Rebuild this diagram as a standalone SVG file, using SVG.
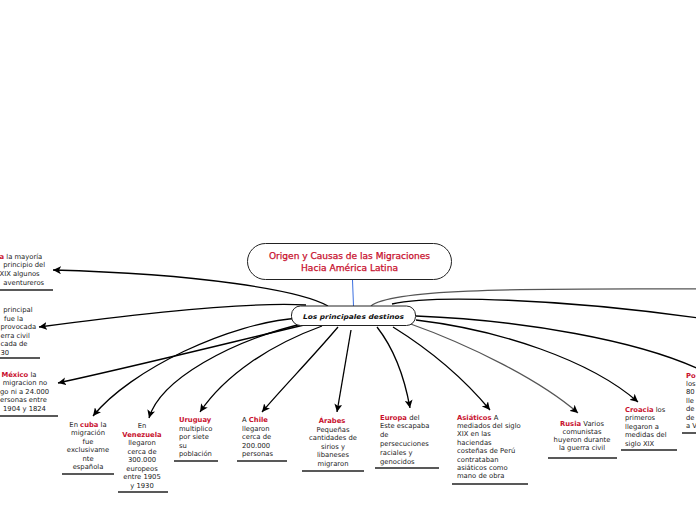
<svg xmlns="http://www.w3.org/2000/svg" width="696" height="520" viewBox="0 0 696 520">
<defs>
<marker id="arr" markerUnits="userSpaceOnUse" markerWidth="9" markerHeight="8" refX="8" refY="4" orient="auto">
<path d="M0,0 L8,4 L0,8 L2,4 z" fill="#000"/>
</marker>
<style>
.t{font-family:"DejaVu Sans",Verdana,sans-serif;font-size:6.8px;fill:#222}
.r{fill:#c8102e;font-weight:bold}
.c{fill:none;stroke:#000;stroke-width:1.3}
.g{fill:none;stroke:#555;stroke-width:1.2}
.u{stroke:#222;stroke-width:1.5}
.m{text-anchor:middle}
</style>
</defs>
<rect width="696" height="520" fill="#fff"/>
<g id="connectors">
<line x1="352.5" y1="280" x2="353.5" y2="306" stroke="#3b6fe0" stroke-width="1"/>
<path class="c" d="M328,306 C300,290 200,274 53,270" marker-end="url(#arr)"/>
<path class="c" d="M306,305 C250,302 150,312 39,327" marker-end="url(#arr)"/>
<path class="c" d="M304,325 C220,345 140,365 58,383" marker-end="url(#arr)"/>
<path class="c" d="M300,318 C230,322 130,370 93,416" marker-end="url(#arr)"/>
<path class="c" d="M310,322 C230,340 160,380 149,418" marker-end="url(#arr)"/>
<path class="c" d="M322,326 C270,345 225,375 200,412" marker-end="url(#arr)"/>
<path class="c" d="M338,327 C310,360 285,385 262,412" marker-end="url(#arr)"/>
<path class="c" d="M351,330 L337,412" marker-end="url(#arr)"/>
<path class="c" d="M377,327 C395,350 405,380 410,408" marker-end="url(#arr)"/>
<path class="c" d="M393,327 C430,350 465,380 490,410" marker-end="url(#arr)"/>
<path class="g" d="M408,323 C470,345 540,380 578,413" marker-end="url(#arr)"/>
<path class="c" d="M416,320 C500,330 590,360 638,402" marker-end="url(#arr)"/>
<path class="c" d="M416,316 C520,320 640,340 705,372" marker-end="url(#arr)"/>
<path class="c" d="M392,304 C430,295 560,298 705,319"/>
<path class="g" d="M371,306 C390,290 500,288 705,289"/>
</g>
<g id="title">
<rect x="247.5" y="243.5" width="204" height="36" rx="18" fill="#fff" stroke="#222" stroke-width="1"/>
<text x="349.5" y="259" text-anchor="middle" textLength="161" lengthAdjust="spacingAndGlyphs" style="font-family:'DejaVu Sans Condensed','DejaVu Sans',sans-serif;font-size:9.5px;fill:#c8102e;stroke:#c8102e;stroke-width:0.25">Origen y Causas de las Migraciones</text>
<text x="349.5" y="271" text-anchor="middle" textLength="97" lengthAdjust="spacingAndGlyphs" style="font-family:'DejaVu Sans Condensed','DejaVu Sans',sans-serif;font-size:9.5px;fill:#c8102e;stroke:#c8102e;stroke-width:0.25">Hacia América Latina</text>
</g>
<g id="destinos">
<rect x="291.5" y="306" width="124" height="19.5" rx="9" fill="#fff" stroke="#222" stroke-width="1"/>
<text x="353.5" y="318.5" text-anchor="middle" textLength="101" lengthAdjust="spacingAndGlyphs" style="font-family:'DejaVu Sans',sans-serif;font-size:6.6px;font-weight:bold;font-style:italic;fill:#111">Los principales destinos</text>
</g>
<g id="argentina">
<text class="t" x="-0.5" y="258.5"><tspan class="r">a</tspan> la mayoría</text>
<text class="t" x="3.3" y="267.3">principio del</text>
<text class="t" x="-0.5" y="276">XIX algunos</text>
<text class="t" x="3.3" y="284.8">aventureros</text>
<line class="u" x1="0" y1="290" x2="53" y2="290"/>
</g>
<g id="espana">
<text class="t" x="3.3" y="312">principal</text>
<text class="t" x="4" y="320.5">fue la</text>
<text class="t" x="0.5" y="329">provocada</text>
<text class="t" x="0.5" y="337.5">erra civil</text>
<text class="t" x="0.5" y="346">cada de</text>
<text class="t" x="0.5" y="354.5">30</text>
<line class="u" x1="0" y1="358" x2="40" y2="358"/>
</g>
<g id="mexico">
<text class="t" x="1.5" y="376.5"><tspan class="r">México</tspan>  la</text>
<text class="t" x="2.7" y="385">migracion no</text>
<text class="t" x="0" y="393.5">go ni a 24.000</text>
<text class="t" x="0" y="402">ersonas entre</text>
<text class="t" x="3" y="410.5">1904 y 1824</text>
<line class="u" x1="0" y1="416" x2="58" y2="416"/>
</g>
<g id="cuba">
<text class="t m" x="88" y="427">En <tspan class="r">cuba</tspan> la</text>
<text class="t m" x="88" y="435.4">migración</text>
<text class="t m" x="88" y="443.8">fue</text>
<text class="t m" x="88" y="452.2">exclusivame</text>
<text class="t m" x="88" y="460.6">nte</text>
<text class="t m" x="88" y="469">española</text>
<line class="u" x1="62" y1="474" x2="114" y2="474"/>
</g>
<g id="venezuela">
<text class="t m" x="142" y="428">En</text>
<text class="t m r" x="142" y="436.5">Venezuela</text>
<text class="t m" x="142" y="445">llegaron</text>
<text class="t m" x="142" y="453.5">cerca de</text>
<text class="t m" x="142" y="462">300.000</text>
<text class="t m" x="142" y="470.5">europeos</text>
<text class="t m" x="142" y="479">entre 1905</text>
<text class="t m" x="142" y="487.5">y 1930</text>
<line class="u" x1="118" y1="492" x2="168" y2="492"/>
</g>
<g id="uruguay">
<text class="t r" x="179" y="422">Uruguay</text>
<text class="t" x="179" y="430.5">multiplico</text>
<text class="t" x="179" y="439">por siete</text>
<text class="t" x="179" y="447.5">su</text>
<text class="t" x="179" y="456">población</text>
<line class="u" x1="174" y1="461" x2="218" y2="461"/>
</g>
<g id="chile">
<text class="t" x="242" y="422">A <tspan class="r">Chile</tspan></text>
<text class="t" x="242" y="430.5">llegaron</text>
<text class="t" x="242" y="439">cerca de</text>
<text class="t" x="242" y="447.5">200.000</text>
<text class="t" x="242" y="456">personas</text>
<line class="u" x1="237" y1="461" x2="287" y2="461"/>
</g>
<g id="arabes">
<text class="t m r" x="332" y="423">Árabes</text>
<text class="t m" x="333" y="431.6">Pequeñas</text>
<text class="t m" x="333" y="440.2">cantidades de</text>
<text class="t m" x="333" y="448.8">sirios y</text>
<text class="t m" x="333" y="457.4">libaneses</text>
<text class="t m" x="333" y="466">migraron</text>
<line class="u" x1="302" y1="471" x2="364" y2="471"/>
</g>
<g id="europa">
<text class="t" x="380" y="419.5"><tspan class="r">Europa</tspan> del</text>
<text class="t" x="380" y="428.4">Este escapaba</text>
<text class="t" x="380" y="437.3">de</text>
<text class="t" x="380" y="446.2">persecuciones</text>
<text class="t" x="380" y="455.1">raciales y</text>
<text class="t" x="380" y="464">genocidos</text>
<line class="u" x1="375" y1="468" x2="439" y2="468"/>
</g>
<g id="asiaticos">
<text class="t" x="457" y="419.5"><tspan class="r">Asiáticos</tspan> A</text>
<text class="t" x="457" y="428">mediados del siglo</text>
<text class="t" x="457" y="436.4">XIX en las</text>
<text class="t" x="457" y="444.8">haciendas</text>
<text class="t" x="457" y="453.2">costeñas de Perú</text>
<text class="t" x="457" y="461.6">contrataban</text>
<text class="t" x="457" y="470">asiáticos como</text>
<text class="t" x="457" y="478.4">mano de obra</text>
<line class="u" x1="452" y1="484" x2="528" y2="484"/>
</g>
<g id="rusia">
<text class="t m" x="582" y="425.5"><tspan class="r">Rusia</tspan> Varios</text>
<text class="t m" x="582" y="433.7">comunistas</text>
<text class="t m" x="582" y="441.9">huyeron durante</text>
<text class="t m" x="582" y="450.1">la guerra civil</text>
<line class="u" x1="548" y1="458" x2="617" y2="458"/>
</g>
<g id="croacia">
<text class="t" x="625" y="412"><tspan class="r">Croacia</tspan> los</text>
<text class="t" x="625" y="420.4">primeros</text>
<text class="t" x="625" y="428.8">llegaron a</text>
<text class="t" x="625" y="437.2">medidas del</text>
<text class="t" x="625" y="445.6">siglo XIX</text>
<line class="u" x1="621" y1="450" x2="677" y2="450"/>
</g>
<g id="polonia">
<text class="t r" x="686" y="377.5">Po</text>
<text class="t" x="686" y="385.9">los</text>
<text class="t" x="686" y="394.3">80</text>
<text class="t" x="686" y="402.7">lle</text>
<text class="t" x="686" y="411.1">de</text>
<text class="t" x="686" y="419.5">de</text>
<text class="t" x="686" y="427.9">a V</text>
<line class="u" x1="682" y1="433" x2="696" y2="433"/>
</g>
</svg>
